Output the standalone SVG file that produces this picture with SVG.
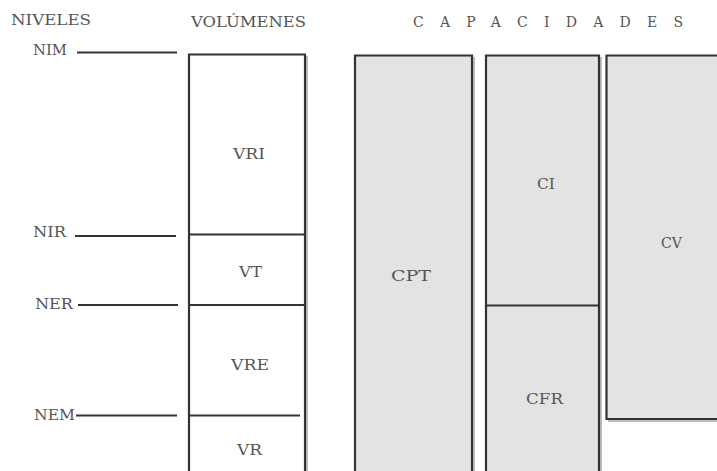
<svg xmlns="http://www.w3.org/2000/svg" width="717" height="471" viewBox="0 0 717 471">
<style>
text{font-family:"DejaVu Serif","Liberation Serif",serif;font-size:14px;fill:#555}
.lv{stroke:#333;stroke-width:2.2;fill:none}
.box{stroke:#333;stroke-width:2.2}
.cap{fill:#e3e3e3}
.vol{fill:#fff}
.sh{stroke:#aaa;stroke-width:1.5;fill:none}
</style>
<rect width="717" height="471" fill="#fff"/>
<g id="headers">
<text x="11" y="25" textLength="80" lengthAdjust="spacingAndGlyphs">NIVELES</text>
<text x="191" y="27" textLength="115" lengthAdjust="spacingAndGlyphs">VOLÚMENES</text>
<text x="413" y="27" textLength="270" lengthAdjust="spacing">CAPACIDADES</text>
</g>
<g id="levels">
<g id="NIM"><text x="33" y="55" textLength="34" lengthAdjust="spacingAndGlyphs">NIM</text></g>
<g id="NIR"><text x="33" y="237" textLength="33" lengthAdjust="spacingAndGlyphs">NIR</text></g>
<g id="NER"><text x="35" y="309" textLength="38" lengthAdjust="spacingAndGlyphs">NER</text></g>
<g id="NEM"><text x="34" y="420" textLength="41" lengthAdjust="spacingAndGlyphs">NEM</text></g>
</g>
<g id="connectors">
<line class="lv" x1="77" y1="52.5" x2="177" y2="52.5"/>
<line class="lv" x1="75" y1="236" x2="176" y2="236"/>
<line class="lv" x1="78" y1="305" x2="178" y2="305"/>
<line class="lv" x1="76" y1="415.5" x2="177" y2="415.5"/>
</g>
<g id="volumes">
<line class="sh" x1="307" y1="56" x2="307" y2="471"/>
<path class="box vol" d="M189,471 V54.5 H305 V471"/>
<line class="lv" x1="189" y1="234.5" x2="305" y2="234.5"/>
<line class="lv" x1="189" y1="305" x2="305" y2="305"/>
<line class="lv" x1="189" y1="415.5" x2="300" y2="415.5"/>
<g id="VRI"><text x="233" y="159" textLength="32" lengthAdjust="spacingAndGlyphs">VRI</text></g>
<g id="VT"><text x="239" y="277" textLength="23" lengthAdjust="spacingAndGlyphs">VT</text></g>
<g id="VRE"><text x="231" y="370" textLength="38" lengthAdjust="spacingAndGlyphs">VRE</text></g>
<g id="VR"><text x="237" y="455" textLength="25" lengthAdjust="spacingAndGlyphs">VR</text></g>
</g>
<g id="CPT">
<line class="sh" x1="474" y1="57" x2="474" y2="471"/>
<path class="box cap" d="M355,471 V55.5 H472 V471"/>
<text x="391" y="281" textLength="40" lengthAdjust="spacingAndGlyphs">CPT</text>
</g>
<g id="CI-CFR">
<line class="sh" x1="601" y1="57" x2="601" y2="471"/>
<path class="box cap" d="M486,471 V55.5 H599 V471"/>
<line class="lv" x1="486" y1="305.5" x2="599" y2="305.5"/>
<g id="CI"><text x="537" y="189" textLength="18" lengthAdjust="spacingAndGlyphs">CI</text></g>
<g id="CFR"><text x="526" y="404" textLength="37" lengthAdjust="spacingAndGlyphs">CFR</text></g>
</g>
<g id="CV">
<line class="sh" x1="608" y1="421" x2="717" y2="421"/>
<path class="box cap" d="M717,55.5 H606.5 V419 H717"/>
<text x="661" y="248" textLength="21" lengthAdjust="spacingAndGlyphs">CV</text>
</g>
</svg>
